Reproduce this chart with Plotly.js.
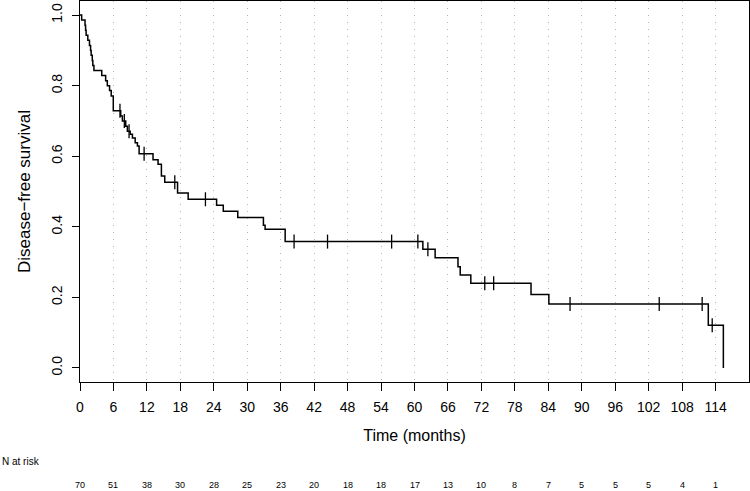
<!DOCTYPE html>
<html>
<head>
<meta charset="utf-8">
<script src="https://cdn.plot.ly/plotly-3.0.1.min.js"></script>
<style>html,body{margin:0;padding:0;background:#fff;}#chart{width:750px;height:491px;}</style>
</head>
<body>
<div id="chart"></div>
<script>
// Kaplan-Meier step curve: time (months) and survival after each step
const stepTimes = [0, 0.3, 0.9, 1.0, 1.1, 1.4, 1.7, 1.9, 2.0, 2.2, 2.3, 2.5, 3.9, 4.6, 4.9, 5.3, 5.6, 5.97,
  7.3, 7.6, 8.2, 8.5, 9.0, 9.4, 9.9, 10.3, 10.6, 13.1, 14.0, 14.6, 15.2, 17.5, 19.4, 24.5, 25.7, 28.3,
  32.9, 33.2, 36.8, 61.5, 63.7, 67.8, 68.2, 70.1, 80.9, 84.1, 112.7, 115.4];
const stepSurvival = [1, 0.986, 0.971, 0.957, 0.943, 0.929, 0.914, 0.900, 0.886, 0.871, 0.857, 0.843,
  0.829, 0.814, 0.800, 0.786, 0.771, 0.729, 0.714, 0.700, 0.685, 0.671, 0.662, 0.652, 0.638, 0.629,
  0.607, 0.590, 0.577, 0.544, 0.526, 0.496, 0.478, 0.461, 0.444, 0.426, 0.404, 0.393, 0.358, 0.336,
  0.312, 0.287, 0.263, 0.240, 0.208, 0.181, 0.121, 0];

// Censored observations
const censorTimes = [7.17, 7.95, 8.8, 11.5, 17.0, 22.5, 38.4, 44.4, 55.9, 60.6, 62.4, 72.6, 74.2, 87.9, 103.9, 111.6, 113.4];
const censorSurvival = [0.729, 0.700, 0.671, 0.607, 0.526, 0.478, 0.358, 0.358, 0.358, 0.358, 0.336, 0.240, 0.240, 0.181, 0.181, 0.181, 0.121];

// Axis ticks and number at risk
const xTicks = [0, 6, 12, 18, 24, 30, 36, 42, 48, 54, 60, 66, 72, 78, 84, 90, 96, 102, 108, 114];
const nAtRisk = [70, 51, 38, 30, 28, 25, 23, 20, 18, 18, 17, 13, 10, 8, 7, 5, 5, 5, 4, 1];
const yTicks = [0, 0.2, 0.4, 0.6, 0.8, 1.0];
const yTickText = ["0.0", "0.2", "0.4", "0.6", "0.8", "1.0"];

const FONT = "Liberation Sans, Arial, Helvetica, sans-serif";

const traces = [
  {
    x: stepTimes, y: stepSurvival, type: "scatter", mode: "lines",
    line: {shape: "hv", color: "#000", width: 1.5}, hoverinfo: "x+y", showlegend: false
  },
  {
    x: censorTimes, y: censorSurvival, type: "scatter", mode: "markers",
    marker: {symbol: "line-ns-open", size: 10, color: "#000", line: {color: "#000", width: 1.3}},
    showlegend: false
  }
];

const annotations = xTicks.map((t, i) => ({
  x: t, y: 0, xref: "x", yref: "paper", text: String(nAtRisk[i]), showarrow: false,
  xanchor: "center", yanchor: "middle", yshift: -103, font: {family: FONT, size: 9, color: "#000"}
}));
annotations.push({
  x: 0, y: 0, xref: "paper", yref: "paper", text: "N at risk", showarrow: false,
  xanchor: "left", yanchor: "middle", xshift: -80, yshift: -79, font: {family: FONT, size: 10, color: "#000"}
});

const layout = {
  width: 750, height: 491,
  margin: {l: 80, r: 1, t: 1, b: 109},
  paper_bgcolor: "#fff", plot_bgcolor: "#fff",
  font: {family: FONT, color: "#000"},
  xaxis: {
    range: [0, 120], tickvals: xTicks, ticktext: xTicks.map(String),
    showgrid: true, gridcolor: "#b4b4b4", griddash: "1px,6px", gridwidth: 1,
    zeroline: false, showline: true, linecolor: "#000", linewidth: 1, mirror: true,
    ticks: "outside", ticklen: 8, tickcolor: "#000", tickwidth: 1,
    tickfont: {family: FONT, size: 14, color: "#000"}, ticklabelstandoff: 4,
    title: {text: "Time (months)", font: {family: FONT, size: 16, color: "#000"}, standoff: 16}
  },
  yaxis: {
    range: [-0.04, 1.04], tickvals: yTicks, ticktext: yTickText, tickangle: -90,
    showgrid: false, zeroline: false, showline: true, linecolor: "#000", linewidth: 1, mirror: true,
    ticks: "outside", ticklen: 7, tickcolor: "#000", tickwidth: 1,
    tickfont: {family: FONT, size: 14, color: "#000"}, ticklabelstandoff: 4,
    title: {text: "Disease\u2212free survival", font: {family: FONT, size: 17, color: "#000"}, standoff: 14}
  },
  annotations: annotations
};

Plotly.newPlot("chart", traces, layout, {displayModeBar: false, staticPlot: true});
</script>
</body>
</html>
